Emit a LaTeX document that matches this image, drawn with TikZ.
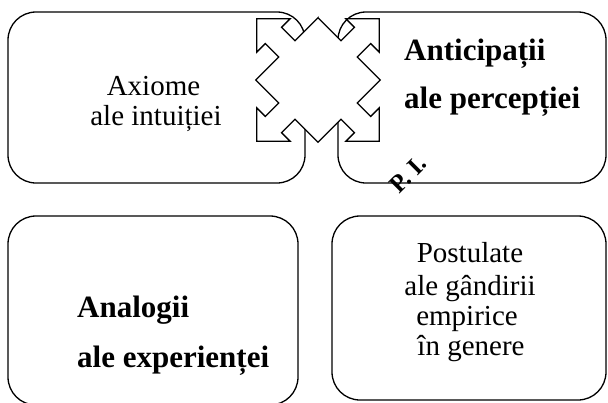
\documentclass[tikz,border=0pt]{standalone}
\usepackage{fontspec}
\setmainfont{Liberation Serif}
\begin{document}
\begin{tikzpicture}[x=1pt,y=-1pt,
  box/.style={draw,line width=1.3pt,rounded corners=28pt,inner sep=0pt},
  crossarrow/.style={draw,fill=white,line width=1.3pt,line join=miter},
  txt/.style={inner sep=0pt,anchor=base,font=\fontsize{29}{30}\selectfont},
  btxt/.style={inner sep=0pt,anchor=base west,font=\fontsize{31}{32}\selectfont\bfseries}]
\useasboundingbox (0,0) rectangle (608,402);
\def\cx{318}
\def\cy{80}

\node[box,minimum width=297pt,minimum height=171pt] (axiome) at (156.5,97.5) {};
\node[box,minimum width=268pt,minimum height=171pt] (anticip) at (472,97.5) {};
\node[box,minimum width=290pt,minimum height=189pt] (analog) at (153,310.5) {};
\node[box,minimum width=274pt,minimum height=184pt] (postul) at (469,308) {};

\draw[crossarrow] (\cx,\cy-62.2)
  \foreach \r in {45,-45,-135,-225} {
    {[shift={(\cx,\cy)},rotate=\r] -- (44,-11.5) -- (63,-11.5) -- (63,-23.5) -- (86.5,0)
      -- (63,23.5) -- (63,11.5) -- (44,11.5) -- (44,44)}
  } -- cycle;

\node[txt] (ax1) at (153.5,95) {Axiome};
\node[txt] (ax2) at (156,125) {ale intuiției};

\node[btxt] (an1) at (404,60) {Anticipații};
\node[btxt] (an2) at (404,108) {ale percepției};
\node[inner sep=0pt,rotate=45,font=\fontsize{25}{26}\selectfont\bfseries] (pi) at (408,174) {P. I.};

\node[btxt] (al1) at (77,317) {Analogii};
\node[btxt] (al2) at (77,367) {ale experienței};

\node[txt] (po1) at (470,262) {Postulate};
\node[txt] (po2) at (470,295) {ale gândirii};
\node[txt] (po3) at (467,325) {empirice};
\node[txt] (po4) at (471,355) {în genere};

\end{tikzpicture}
\end{document}
